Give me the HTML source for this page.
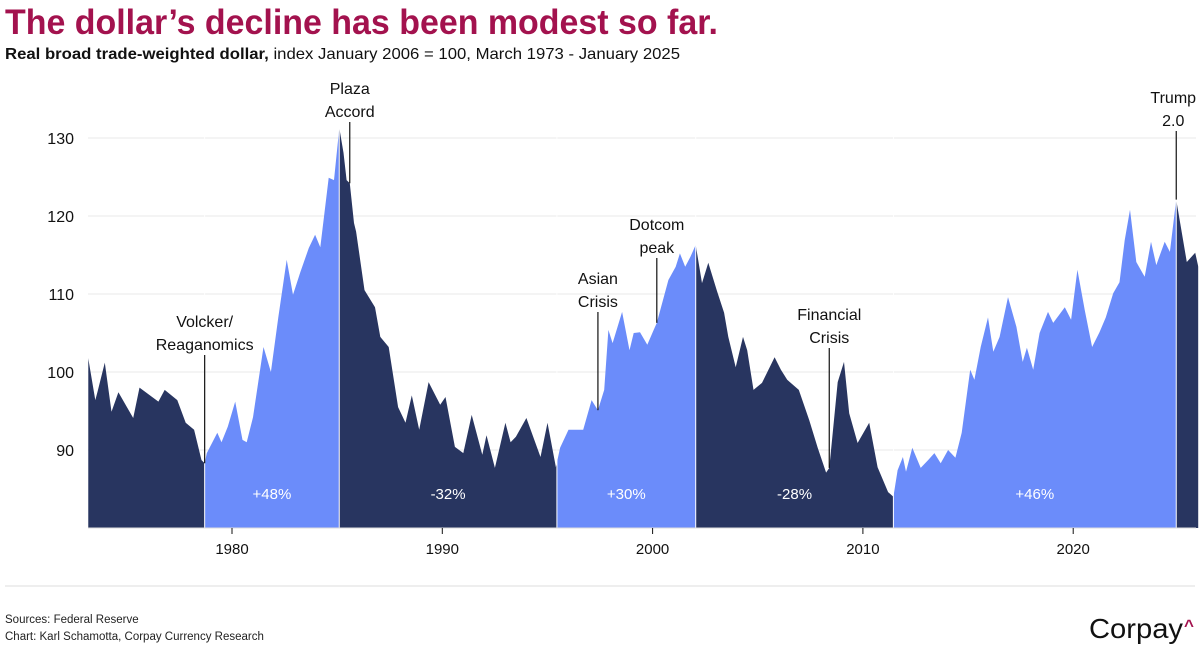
<!DOCTYPE html>
<html><head><meta charset="utf-8">
<style>
html,body{margin:0;padding:0;background:#fff;}
svg{display:block;font-family:"Liberation Sans",sans-serif;}
</style></head>
<body>
<svg id="chart" width="1200" height="671" viewBox="0 0 1200 671" xmlns="http://www.w3.org/2000/svg">
  <text x="5" y="34" font-size="35" font-weight="bold" fill="#a3124e" textLength="713" lengthAdjust="spacingAndGlyphs">The dollar’s decline has been modest so far.</text>
  <text x="5" y="59" font-size="16" fill="#111" textLength="675" lengthAdjust="spacingAndGlyphs"><tspan font-weight="bold">Real broad trade-weighted dollar,</tspan> index January 2006 = 100, March 1973 - January 2025</text>
  <g id="grid"></g>
  <g id="areas"></g>
  <g id="yaxis"></g>
  <g id="xaxis"></g>
  <g id="notes"></g>
  <rect x="5" y="585" width="1190" height="2" fill="#eeeeee"/>
  <text x="5" y="623" font-size="11.5" fill="#222">Sources: Federal Reserve</text>
  <text x="5" y="640" font-size="11.5" fill="#222">Chart: Karl Schamotta, Corpay Currency Research</text>
  <text x="1089" y="638" font-size="28" fill="#111" textLength="94" lengthAdjust="spacingAndGlyphs">Corpay</text>
  <text x="1184" y="631" font-size="17" font-weight="bold" fill="#a3124e">^</text>
</svg>
<script>
const dates = [1973.16,1973.5,1973.6,1973.95,1974.27,1974.6,1975.3,1975.6,1976.5,1976.8,1977.4,1977.8,1978.2,1978.55,1978.7,1978.8,1979.3,1979.5,1979.8,1980.15,1980.5,1980.7,1981.0,1981.5,1981.85,1982.2,1982.6,1982.9,1983.25,1983.65,1983.95,1984.2,1984.6,1984.85,1985.1,1985.3,1985.45,1985.6,1985.8,1985.9,1986.3,1986.8,1987.05,1987.45,1987.9,1988.25,1988.55,1988.9,1989.35,1989.9,1990.15,1990.6,1991.0,1991.4,1991.9,1992.1,1992.5,1993.0,1993.25,1993.5,1994.0,1994.67,1995.0,1995.4,1995.6,1996.0,1996.4,1996.7,1997.1,1997.4,1997.7,1997.9,1998.1,1998.55,1998.9,1999.1,1999.4,1999.75,2000.05,2000.2,2000.75,2001.1,2001.3,2001.55,2001.8,2002.05,2002.35,2002.65,2003.05,2003.4,2003.6,2003.95,2004.3,2004.5,2004.8,2005.2,2005.8,2006.1,2006.4,2006.95,2007.45,2007.85,2008.25,2008.4,2008.8,2009.1,2009.35,2009.75,2010.3,2010.7,2011.2,2011.45,2011.65,2011.9,2012.05,2012.35,2012.75,2013.1,2013.4,2013.7,2014.05,2014.4,2014.7,2015.1,2015.3,2015.6,2015.95,2016.2,2016.5,2016.9,2017.3,2017.6,2017.8,2018.1,2018.4,2018.8,2019.05,2019.6,2019.9,2020.2,2020.55,2020.9,2021.25,2021.55,2021.9,2022.2,2022.45,2022.7,2023.0,2023.4,2023.7,2023.95,2024.35,2024.6,2024.9,2025.4,2025.8,2025.95];
const values = [101.8,96.4,97.4,101.2,94.9,97.4,94.1,98,96.2,97.7,96.4,93.5,92.6,88.7,88.3,89.6,92.2,91,93,96.2,91.3,91,94.2,103.2,100,107,114.4,109.9,112.8,115.9,117.6,116,124.9,124.6,131.3,128.1,124.6,124.2,119.1,118,110.5,108.3,104.5,103.2,95.5,93.5,97,92.6,98.7,95.8,96.8,90.4,89.6,94.5,89.4,91.9,87.7,93.5,91,91.7,94.1,89.1,93.5,87.8,90.3,92.6,92.6,92.6,96.4,95.1,97.7,105.4,103.7,107.7,102.8,105,105.1,103.5,105.4,106.3,111.8,113.5,115.2,113.5,114.8,116.3,111.4,114,110.5,107.6,104.5,100.6,104.5,102.8,97.7,98.6,101.9,100.3,99,97.7,93.8,90.3,87.1,87.7,98.7,101.3,94.7,90.9,93.5,87.8,84.6,84.0,87.4,89.1,87.2,90.3,87.7,88.7,89.6,88.3,90,89,92.2,100.3,99,103.2,107,102.6,104.5,109.6,105.8,101.3,103.1,100.3,105,107.7,106.3,108.3,106.7,113.1,107.9,103.2,105.1,107,110.1,111.5,116.9,120.8,114.1,112.2,116.7,113.7,116.7,115.4,122.1,114.1,115.3,113.5];
const phaseBreaks = [1973.16,1978.7,1985.1,1995.45,2002.05,2011.45,2024.9,2025.95];
const phaseLabels = ["","+48%","-32%","+30%","-28%","+46%",""];
const yTicks = [90,100,110,120,130];
const xTicks = [1980,1990,2000,2010,2020];
const noteDates = [1978.7,1985.6,1997.4,2000.2,2008.4,2024.9];
const noteLines1 = ["Volcker/","Plaza","Asian","Dotcom","Financial","Trump"];
const noteLines2 = ["Reaganomics","Accord","Crisis","peak","Crisis","2.0"];

const NS="http://www.w3.org/2000/svg";
const X0=88,X1=1196,YB=528;
const xs=d=>232+(d-1980)*21.03;
const ys=v=>372-(v-100)*7.8;
// layout only: pixel top of each annotation leader line
const noteTops=[355,122,312,258,348,131];
function mk(tag,attrs,parent){const e=document.createElementNS(NS,tag);for(const k in attrs)e.setAttribute(k,attrs[k]);parent.appendChild(e);return e;}
const grid=document.getElementById('grid'),areas=document.getElementById('areas'),ya=document.getElementById('yaxis'),xa=document.getElementById('xaxis'),notes=document.getElementById('notes');
const svg=document.getElementById('chart');
yTicks.forEach(t=>{
  const l=mk('line',{x1:X0,x2:X1,y1:ys(t),y2:ys(t),stroke:'#f0f0f0','stroke-width':1.5},grid);
  
  
  const tx=mk('text',{x:74,y:ys(t)+6,'text-anchor':'end','font-size':16,fill:'#111'},ya);
  
  
  tx.textContent=t;
});
let d='M'+xs(dates[0])+','+YB;
dates.forEach((dt,i)=>{d+=' L'+xs(dt).toFixed(1)+','+ys(values[i]).toFixed(1);});
d+=' L'+xs(dates[dates.length-1])+','+YB+' Z';
const defs=mk('defs',{},svg);
for(let i=0;i<phaseBreaks.length-1;i++){
  const a=xs(phaseBreaks[i]),b=xs(phaseBreaks[i+1]);
  const cp=mk('clipPath',{id:'cp'+i},defs);
  mk('rect',{x:a,y:0,width:b-a,height:YB+1},cp);
  const p=mk('path',{d:d,fill:i%2===0?'#283560':'#6b8cfa','clip-path':'url(#cp'+i+')'},areas);
  
  
  if(phaseLabels[i]){
    const t=mk('text',{x:(a+b)/2,y:499,'text-anchor':'middle','font-size':15,fill:'#fff'},areas);
    
    
    t.textContent=phaseLabels[i];
  }
  if(i>0){
    const l=mk('line',{x1:a,x2:a,y1:80,y2:YB,stroke:'#fff','stroke-width':1},areas);
    
    
  }
}
const ax=mk('line',{x1:X0,x2:X1,y1:YB,y2:YB,stroke:'#ddd','stroke-width':1},xa);


xTicks.forEach(t=>{
  const l=mk('line',{x1:xs(t),x2:xs(t),y1:YB,y2:YB+6,stroke:'#111','stroke-width':1},xa);
  
  
  const tx=mk('text',{x:xs(t),y:554,'text-anchor':'middle','font-size':15,fill:'#111'},xa);
  
  
  tx.textContent=t;
});
function valAt(dt){for(let i=1;i<dates.length;i++){if(dates[i]>=dt){const f=(dt-dates[i-1])/(dates[i]-dates[i-1]);return values[i-1]+f*(values[i]-values[i-1]);}}return values[values.length-1];}
noteDates.forEach((dt,i)=>{
  const x=xs(dt),top=ys(valAt(dt));
  const isTrump=i===noteDates.length-1;
  const yLine=noteTops[i];
  const yb2=yLine-5, yb1=yb2-23;
  const l=mk('line',{x1:x,x2:x,y1:yLine,y2:top,stroke:'#111','stroke-width':1.2},notes);
  
  
  const tx=isTrump?x-3:x;
  const t1=mk('text',{x:tx,y:yb1,'text-anchor':'middle','font-size':16,fill:'#111'},notes);
  
  
  t1.textContent=noteLines1[i];
  const t2=mk('text',{x:tx,y:yb2,'text-anchor':'middle','font-size':16,fill:'#111'},notes);
  
  
  t2.textContent=noteLines2[i];
});
</script>
</body></html>
